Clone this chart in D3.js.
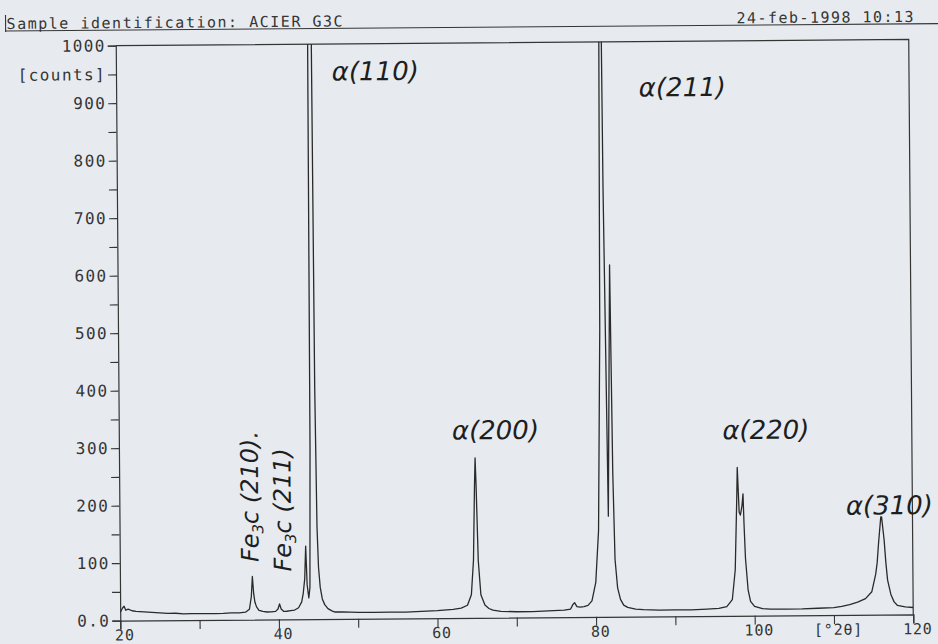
<!DOCTYPE html>
<html><head><meta charset="utf-8">
<script src="https://cdn.jsdelivr.net/npm/d3@7"></script>
<style>
html,body{margin:0;padding:0;background:#e7ebf0;}
svg{display:block;}
</style></head>
<body>
<svg id="chart" width="938" height="644"></svg>
<script>
// ---------------- data ----------------
const sampleTitle = "Sample identification: ACIER G3C";
const dateStamp = "24-feb-1998 10:13";

const xTickValues = [20, 30, 40, 50, 60, 70, 80, 90, 100, 110, 120];
const xTickLabels = {20: "20", 40: "40", 60: "60", 80: "80", 100: "100", 110: "[°2θ]", 120: "120"};

const yTickValues = [0, 50, 100, 150, 200, 250, 300, 350, 400, 450, 500, 550, 600, 650, 700, 750, 800, 850, 900, 950, 1000];
const yTickLabels = {0: "0.0", 100: "100", 200: "200", 300: "300", 400: "400", 500: "500",
  600: "600", 700: "700", 800: "800", 900: "900", 950: "[counts]", 1000: "1000"};

// diffraction scan: 2-theta (deg) and intensity (counts)
const twoTheta = [
  20.0, 20.3, 20.5, 20.7, 21.0, 21.5, 22, 23, 24, 25, 26, 27, 28, 29, 30, 31, 32, 33, 34, 35,
  35.8, 36.3, 36.55, 36.7, 36.85, 37.0, 37.2, 37.5, 38, 38.5, 39, 39.6, 39.9, 40.1, 40.3, 40.6,
  41, 41.5, 42, 42.5, 42.9, 43.1, 43.3, 43.45, 43.6, 43.8, 43.95, 44.1, 44.25, 44.6, 44.75,
  44.9, 45.05, 45.25, 45.5, 45.8, 46.2, 46.7, 47.1, 48, 50, 52, 54, 56, 58, 60, 62, 63, 63.8, 64.3,
  64.6, 64.8, 64.9, 65.0, 65.2, 65.5, 66, 66.5, 67, 68, 70, 72, 74, 76, 76.8, 77.1, 77.3, 77.6,
  78, 78.5, 79, 79.5, 80.0, 80.4, 80.75, 81.05, 81.15, 81.3, 81.65, 82.05, 82.25, 82.45, 82.75, 83.1,
  83.5, 84, 85, 86, 88, 90, 92, 94, 95.5, 96.5, 97.2, 97.6, 97.85, 97.95, 98.15, 98.3, 98.5,
  98.65, 98.75, 98.9, 99.2, 99.5, 100, 101, 102, 104, 106, 108, 110, 111, 112, 113, 114, 114.8,
  115.3, 115.5, 115.7, 116.0, 116.1, 116.4, 116.6, 116.8, 117.2, 117.6, 118, 119, 120
];
const counts = [
  14, 22, 25, 18, 20, 17, 16, 15, 14, 13, 12, 12, 11, 11, 11, 11, 11, 11, 12, 12,
  13, 18, 40, 75, 45, 30, 22, 16, 14, 13, 13, 14, 18, 27, 18, 14,
  14, 15, 16, 20, 30, 45, 70, 127, 60, 37, 55, 300, 1400, 1400, 400,
  160, 90, 55, 35, 25, 18, 14, 12, 12, 11, 11, 11, 11, 12, 13, 15, 17, 22, 40,
  100, 230, 278, 230, 100, 40, 22, 16, 13, 11, 10, 10, 11, 12, 14, 22, 25, 18,
  17, 18, 20, 28, 60, 150, 500, 1400, 1300, 750, 175, 612, 250, 100, 50, 30,
  20, 16, 13, 12, 11, 11, 11, 12, 13, 16, 28, 80, 200, 258, 180, 175, 190,
  212, 160, 100, 45, 25, 16, 12, 11, 11, 11, 12, 13, 15, 18, 22, 28, 40,
  70, 90, 125, 170, 170, 130, 90, 60, 35, 22, 16, 13, 12
];

// hand-written annotations, anchored in data coordinates (2-theta, counts)
const noteText  = ["α(110)", "α(211)", "α(200)", "α(220)", "α(310)"];
const noteTheta = [52.7, 91.4, 67.5, 101.6, 117.1];
const noteCount = [952, 920, 326, 323, 190];
const vNoteText  = ["(210).", "(211)"];
const vNoteTheta = [37.5, 41.6];
const vNoteCount = [100, 83];

// ---------------- drawing ----------------
const svg = d3.select("#chart");
svg.append("rect").attr("width", 938).attr("height", 644).attr("fill", "#e7ebf0");

const g = svg.append("g").attr("transform", "rotate(-0.45 515 330)");

const x = d3.scaleLinear().domain([20, 120]).range([118, 911]);
const y = d3.scaleLinear().domain([0, 1000]).range([617.5, 42.5]);

const ink = "#353535";
const mono = "'DejaVu Sans Mono', 'Liberation Mono', monospace";

// header
g.append("line").attr("x1", 8).attr("x2", 945).attr("y1", 27).attr("y2", 27)
  .attr("stroke", ink).attr("stroke-width", 1.1);
g.append("line").attr("x1", 8).attr("x2", 8).attr("y1", 11).attr("y2", 28)
  .attr("stroke", ink).attr("stroke-width", 1.1);
g.append("text").attr("x", 9).attr("y", 25).attr("font-family", mono).attr("font-size", 15)
  .attr("fill", ink).attr("textLength", 336).attr("lengthAdjust", "spacing").text(sampleTitle);
g.append("text").attr("x", 739).attr("y", 25).attr("font-family", mono).attr("font-size", 15)
  .attr("fill", ink).attr("textLength", 177).attr("lengthAdjust", "spacing").text(dateStamp);

// frame (top + right)
g.append("path")
  .attr("d", `M${x(20)},${y(1000)}H${x(120)}V${y(0)}`)
  .attr("fill", "none").attr("stroke", ink).attr("stroke-width", 1.2);

// y axis
const yAxis = d3.axisLeft(y).tickValues(yTickValues).tickSize(8).tickPadding(3)
  .tickFormat(d => yTickLabels[d] !== undefined ? yTickLabels[d] : "");
const ya = g.append("g").attr("transform", `translate(${x(20)},0)`).call(yAxis);
ya.select(".domain").attr("stroke", ink).attr("stroke-width", 1.2);
ya.selectAll(".tick line").attr("stroke", ink).attr("stroke-width", 1.1);
ya.selectAll(".tick text").attr("font-family", mono).attr("font-size", 16)
  .attr("fill", ink).attr("letter-spacing", 1.4).attr("dx", 1);

// x axis
const xAxis = d3.axisBottom(x).tickValues(xTickValues).tickSize(9).tickPadding(6)
  .tickFormat(d => xTickLabels[d] !== undefined ? xTickLabels[d] : "");
const xa = g.append("g").attr("transform", `translate(0,${y(0)})`).call(xAxis);
xa.select(".domain").attr("stroke", ink).attr("stroke-width", 1.3);
xa.selectAll(".tick line").attr("stroke", ink).attr("stroke-width", 1.1);
xa.selectAll(".tick text").attr("font-family", mono).attr("font-size", 15)
  .attr("fill", ink).attr("letter-spacing", 0.8).attr("dx", 4)
  .attr("y", 9).attr("dy", "0.72em");

// scan trace
svg.append("defs").append("clipPath").attr("id", "plotClip").append("rect")
  .attr("x", x(20)).attr("y", y(1000)).attr("width", x(120) - x(20)).attr("height", y(0) - y(1000));
const pts = twoTheta.map((t, i) => [t, counts[i]]);
const line = d3.line().x(d => x(d[0])).y(d => y(d[1])).curve(d3.curveLinear);
g.append("g").attr("clip-path", "url(#plotClip)")
  .append("path").datum(pts).attr("d", line)
  .attr("fill", "none").attr("stroke", "#2a2a2a").attr("stroke-width", 1.3)
  .attr("stroke-linejoin", "round");

// hand-written annotations
const hand = "'DejaVu Sans', 'Noto Sans', sans-serif";
noteText.forEach((t, i) => {
  g.append("text").attr("x", x(noteTheta[i])).attr("y", y(noteCount[i]))
    .attr("text-anchor", "middle").attr("dominant-baseline", "central")
    .attr("font-family", hand).attr("font-size", 26).attr("fill", "#1e1e1e")
    .attr("font-style", "italic").text(t);
});
vNoteText.forEach((t, i) => {
  const tx = g.append("text")
    .attr("transform", `translate(${x(vNoteTheta[i])},${y(vNoteCount[i])}) rotate(-90)`)
    .attr("font-family", hand).attr("font-size", 24).attr("fill", "#1e1e1e").attr("font-style", "italic");
  tx.append("tspan").text("Fe");
  tx.append("tspan").attr("font-size", 15).attr("dy", 5).text("3");
  tx.append("tspan").attr("dy", -5).text("c ");
  tx.append("tspan").text(t);
});
</script>
</body></html>
